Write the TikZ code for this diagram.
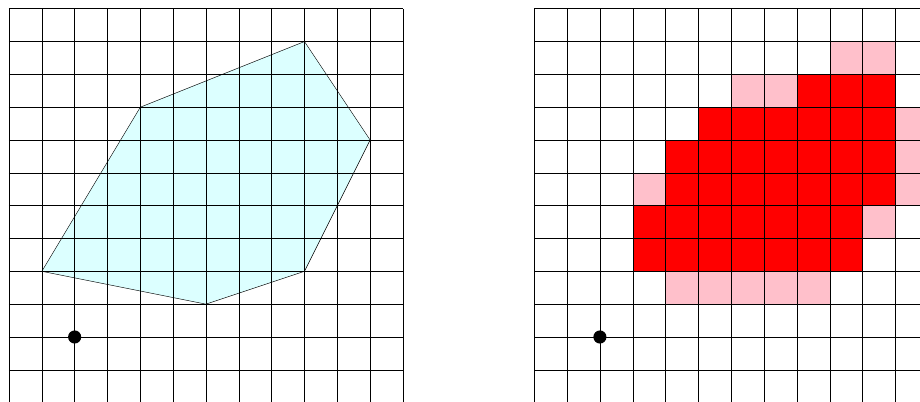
\documentclass[tikz,border=0pt]{standalone}
\definecolor{lightcyan}{RGB}{220,255,255}
\definecolor{pinkcell}{RGB}{255,192,203}
\definecolor{redcell}{RGB}{255,0,0}
\tikzset{
  gridline/.style={black, line width=0.4pt},
  hullpoly/.style={draw=black, line width=0.4pt},
  blackdot/.style={circle, fill=black, inner sep=0pt, minimum size=0.4cm}
}
\begin{document}
\begin{tikzpicture}
\useasboundingbox (-0.274,0.02) rectangle (27.75,12.265);
\begin{scope}
\clip (-0.274,0.02) rectangle (27.75,12.265);
% left polygon
\coordinate (p1) at (1,4);
\coordinate (p2) at (4,9);
\coordinate (p3) at (9,11);
\coordinate (p4) at (11,8);
\coordinate (p5) at (9,4);
\coordinate (p6) at (6,3);
\fill[lightcyan] (p1) -- (p2) -- (p3) -- (p4) -- (p5) -- (p6) -- cycle;
% right cells: {col/row from top}
\foreach \c/\r in {9/1,10/1, 6/2,7/2, 11/3, 11/4, 3/5, 11/5, 10/6, 4/8,5/8,6/8,7/8,8/8}
  \fill[pinkcell] (16+\c,11-\r) rectangle (17+\c,12-\r);
\foreach \c/\r in {8/2,9/2,10/2,
  5/3,6/3,7/3,8/3,9/3,10/3,
  4/4,5/4,6/4,7/4,8/4,9/4,10/4,
  4/5,5/5,6/5,7/5,8/5,9/5,10/5,
  3/6,4/6,5/6,6/6,7/6,8/6,9/6,
  3/7,4/7,5/7,6/7,7/7,8/7,9/7}
  \fill[redcell] (16+\c,11-\r) rectangle (17+\c,12-\r);
% grids
\draw[gridline] (0,-0.5) grid (12,12);
\draw[gridline] (16,-0.5) grid (28,12);
\draw[hullpoly] (p1) -- (p2) -- (p3) -- (p4) -- (p5) -- (p6) -- cycle;
\node[blackdot] (d1) at (2,2) {};
\node[blackdot] (d2) at (18,2) {};
\end{scope}
\end{tikzpicture}
\end{document}
